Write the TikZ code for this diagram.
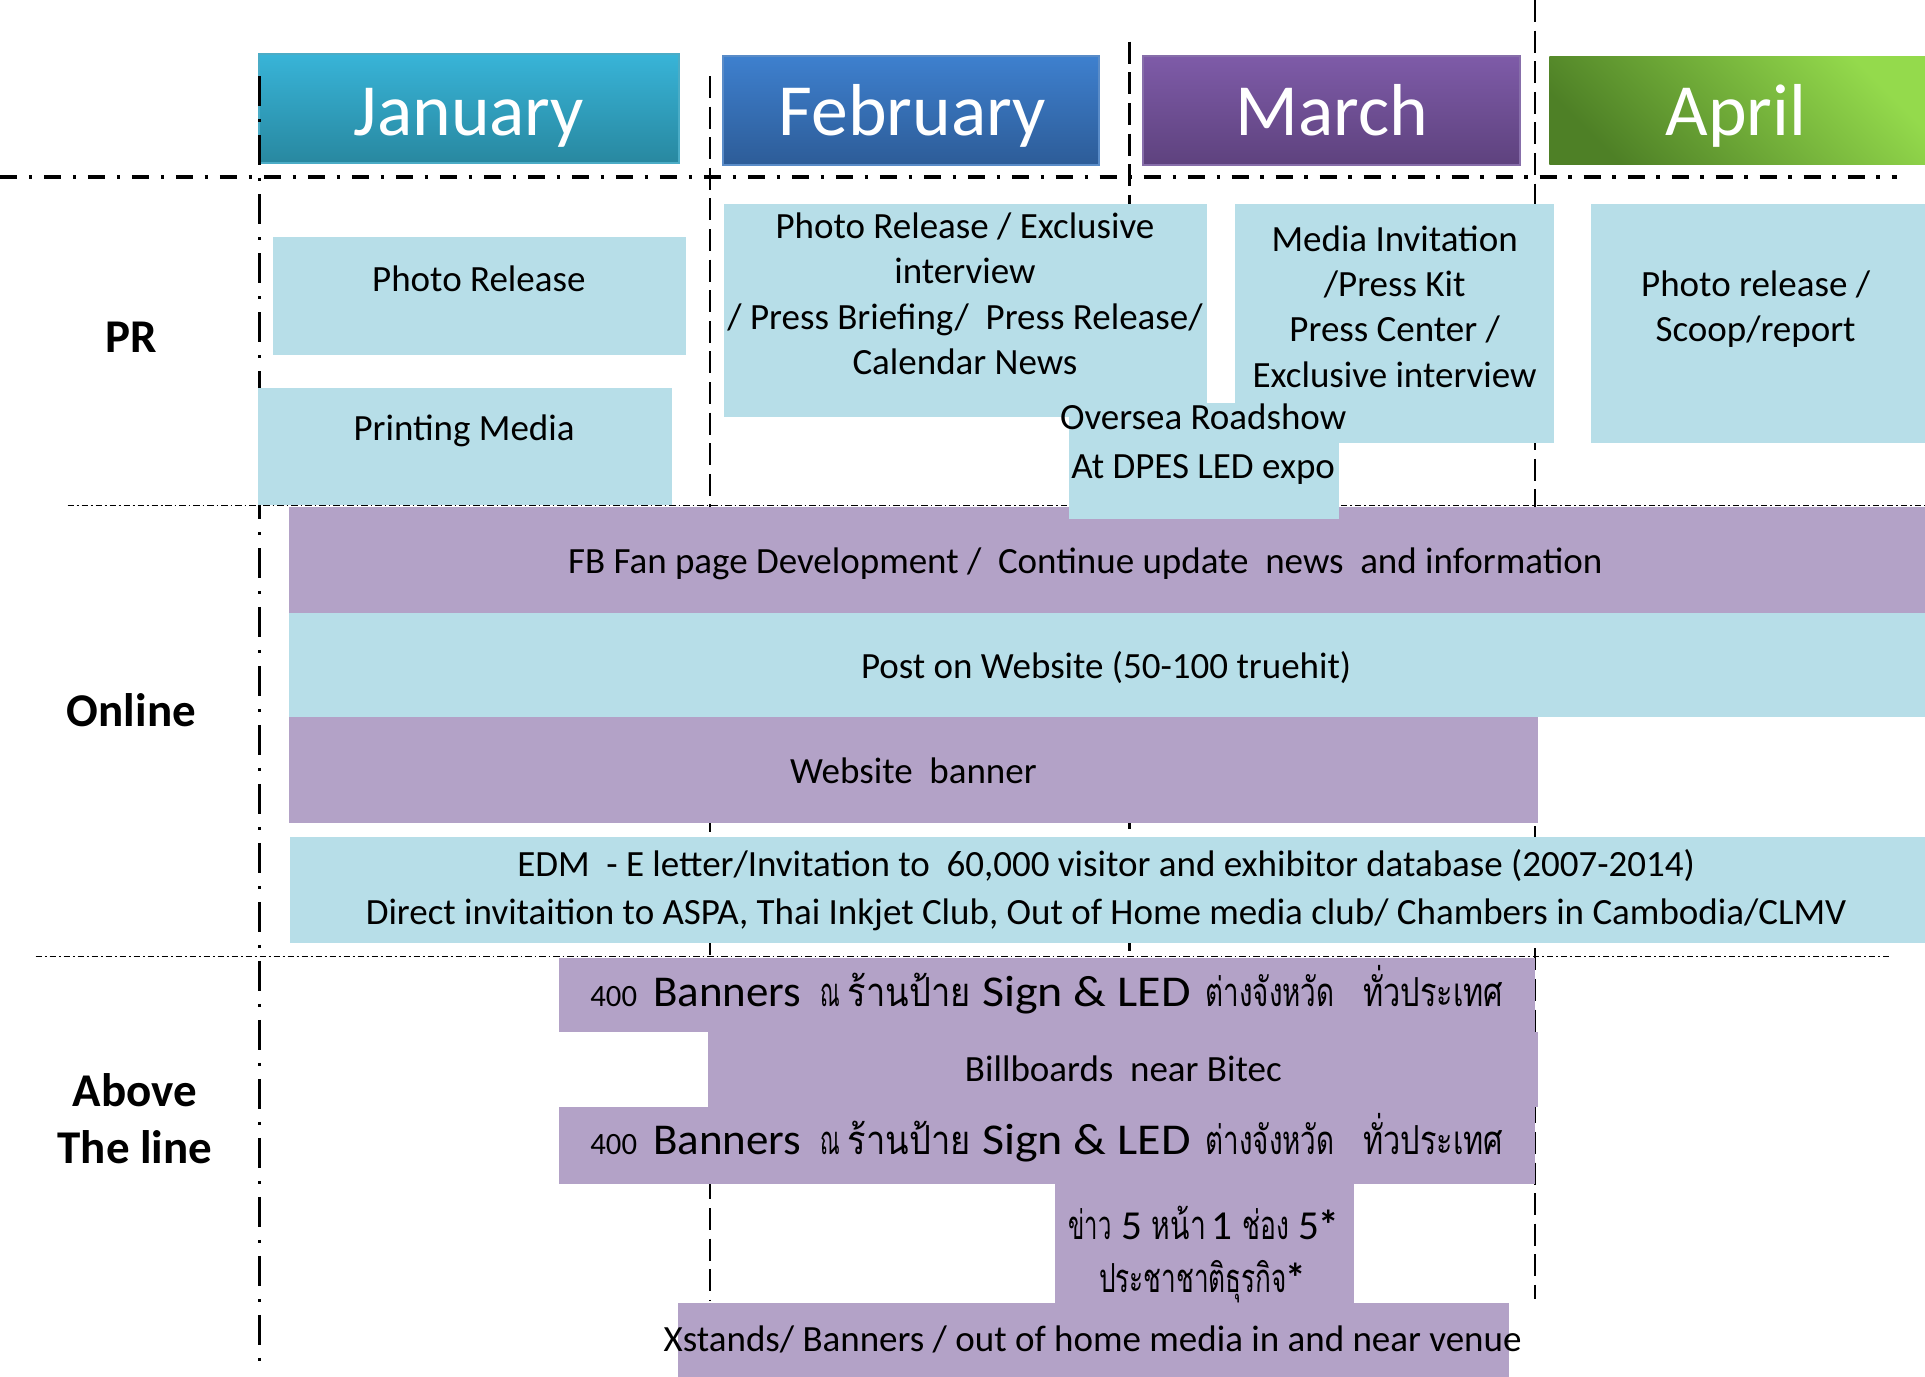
\documentclass[tikz,border=0pt]{standalone}
\usepackage{fontspec}
\setmainfont{Carlito}
\newfontfamily\thaifont[Script=Thai]{Loma}
\definecolor{janTop}{RGB}{56,180,216}
\definecolor{janBot}{RGB}{40,136,160}
\definecolor{janBorder}{RGB}{75,172,198}
\definecolor{febTop}{RGB}{62,128,206}
\definecolor{febBot}{RGB}{45,92,152}
\definecolor{febBorder}{RGB}{90,140,200}
\definecolor{marTop}{RGB}{126,91,168}
\definecolor{marBot}{RGB}{94,66,126}
\definecolor{marBorder}{RGB}{135,110,170}
\definecolor{aprTR}{RGB}{148,218,76}
\definecolor{aprBL}{RGB}{78,128,38}
\definecolor{lblue}{HTML}{B7DEE8}
\definecolor{lpurp}{HTML}{B3A2C7}
\newlength{\vu}\setlength{\vu}{0.614pt}
\newcommand{\bodysize}{\fontsize{18.5}{22.7}\selectfont}
\newcommand{\bigsize}{\fontsize{22}{26}\selectfont}
\newcommand{\digsize}{\fontsize{20.6}{24}\selectfont}
\newcommand{\thaitxt}[1]{{\thaifont\fontsize{20}{24}\selectfont #1}}
\newcommand{\fitw}[2]{\resizebox{#1\vu}{\height}{#2}}
\newcommand{\bannerrow}{\fitw{38}{\fontsize{15.5}{18}\selectfont 400}\hspace{13\vu}\fitw{120.6}{\bigsize Banners}\hspace{16\vu}\fitw{16}{\thaitxt{ณ}}\hspace{6\vu}\fitw{100}{\thaitxt{ร้านป้าย}}\hspace{9.6\vu}\fitw{169.7}{\bigsize Sign \& LED}\hspace{12.2\vu}\fitw{105}{\thaitxt{ต่างจังหวัด}}\hspace{23.5\vu}\fitw{114}{\thaitxt{ทั่วประเทศ}}}
\begin{document}
\begin{tikzpicture}[x=0.614pt,y=-0.614pt,
  monthtxt/.style={inner sep=0pt,anchor=base,text=white,font=\fontsize{36.8}{44}\selectfont},
  txt/.style={inner sep=0pt,anchor=base,align=center,font=\bodysize},
  rowlabel/.style={inner sep=0pt,anchor=base,align=center,font=\fontsize{23.5}{28.6}\selectfont\bfseries},
  lb/.style={fill=lblue},
  lp/.style={fill=lpurp},
  hthick/.style={line width=2pt,dash pattern=on 8.6pt off 5.8pt on 1.8pt off 5.8pt},
  hthin/.style={line width=0.5pt,dash pattern=on 3.1pt off 1.5pt on 0.9pt off 1.5pt},
  vthick/.style={line width=1.5pt,dash pattern=on 15pt off 6.5pt on 1.5pt off 6.5pt},
  vdash/.style={line width=1.1pt,dash pattern=on 11pt off 4.3pt}]
\useasboundingbox (0,0) rectangle (1568,1121.6);

% month header boxes
\shade[top color=janTop,bottom color=janBot] (211,44) rectangle (553,132.5);
\draw[janBorder,line width=1pt] (211,44) rectangle (553,132.5);
\shade[top color=febTop,bottom color=febBot] (589,45.6) rectangle (895,134.4);
\draw[febBorder,line width=1pt] (589,45.6) rectangle (895,134.4);
\shade[top color=marTop,bottom color=marBot] (931,45.6) rectangle (1238,134);
\draw[marBorder,line width=1pt] (931,45.6) rectangle (1238,134);
\shade[top color=aprTR,bottom color=aprBL,shading angle=-45] (1262,46.4) rectangle (1568,134);

\node[monthtxt] (jan) at (382,110) {January};
\node[monthtxt] (feb) at (743,110) {February};
\node[monthtxt] (mar) at (1085,110) {March};
\node[monthtxt] (apr) at (1414,110) {April};

% grid lines
\draw[hthick] (0,144) -- (1545,144);
\draw[hthin] (55,412) -- (1568,412);
\draw[hthin] (29,779) -- (1539,779);
\draw[vthick] (211,62) -- (211,1114);
\draw[vdash] (578,62) -- (578,1060);
\draw[vdash] (920,34) -- (920,1060);
\draw[vdash] (1250,0) -- (1250,1058);

% PR boxes
\fill[lb] (222,193) rectangle (559,289);
\fill[lb] (210,316) rectangle (547,411);
\fill[lb] (590,166) rectangle (983,340);
\fill[lb] (1006,166) rectangle (1266,361);
\fill[lb] (1296,166) rectangle (1568,361);

% Online boxes
\fill[lp] (235,413) rectangle (1568,499);
\fill[lb] (235,499) rectangle (1568,584);
\fill[lp] (235,584) rectangle (1253,670);
\fill[lb] (236,682) rectangle (1568,768);
\fill[lb] (871,328) rectangle (1091,423);

% Above the line boxes
\fill[lp] (455,780) rectangle (1250,841);
\fill[lp] (577,841) rectangle (1253,902);
\fill[lp] (455,902) rectangle (1250,964);
\fill[lp] (859,964) rectangle (1103,1062);
\fill[lp] (552,1061) rectangle (1229,1121.6);

% row labels (multi-line nodes: base = last line baseline)
\node[rowlabel] (pr) at (107,287) {PR};
\node[rowlabel] (online) at (107,591.4) {Online};
\node[rowlabel] (above) at (110,947.6) {Above\\The line};

% PR texts
\node[txt] (photorel) at (390,237.6) {Photo Release};
\node[txt] (printing) at (378,359) {Printing Media};
\node[txt] (febpr) at (786,305) {Photo Release / Exclusive\\interview\\/ Press Briefing/~ Press Release/\\Calendar News};
\node[txt] (marpr) at (1136,315.5) {Media Invitation\\/Press Kit\\Press Center /\\Exclusive interview};
\node[txt] (aprpr) at (1430,278.5) {Photo release /\\Scoop/report};
\node[txt,font=\fontsize{18.5}{24.6}\selectfont] (oversea) at (980,390) {Oversea Roadshow\\At DPES LED expo};

% Online texts
\node[txt] (fb) at (884,467) {FB Fan page Development /~ Continue update~ news~ and information};
\node[txt] (post) at (901,553) {Post on Website (50-100 truehit)};
\node[txt] (webban) at (744,638) {Website~ banner};
\node[txt,font=\fontsize{18.5}{23.9}\selectfont] (edm) at (901,752.7) {EDM~ - E letter/Invitation to~ 60,000 visitor and exhibitor database (2007-2014)\\Direct invitaition to ASPA, Thai Inkjet Club, Out of Home media club/ Chambers in Cambodia/CLMV};

% Above the line texts
\node[txt,anchor=base west] (ban1) at (480.6,820) {\bannerrow};
\node[txt] (bill) at (915,881) {Billboards~ near Bitec};
\node[txt,anchor=base west] (ban2) at (480.6,940.5) {\bannerrow};
\node[txt,anchor=base west] (news1) at (870,1010) {\fitw{35}{\thaitxt{ข่าว}}\hspace{8\vu}\makebox[17\vu]{\digsize 5}\hspace{8\vu}\fitw{44}{\thaitxt{หน้า}}\hspace{6\vu}\makebox[14\vu]{\digsize 1}\hspace{10\vu}\fitw{38}{\thaitxt{ช่อง}}\hspace{7\vu}\makebox[33\vu][l]{\digsize 5\textbf{*}}};
\node[txt,anchor=base west] (news2) at (895,1053) {\fitw{153}{\thaitxt{ประชาชาติธุรกิจ}}\hspace{-1\vu}{\digsize\textbf{*}}};
\node[txt] (xst) at (890,1101) {Xstands/ Banners / out of home media in and near venue};
\end{tikzpicture}
\end{document}
